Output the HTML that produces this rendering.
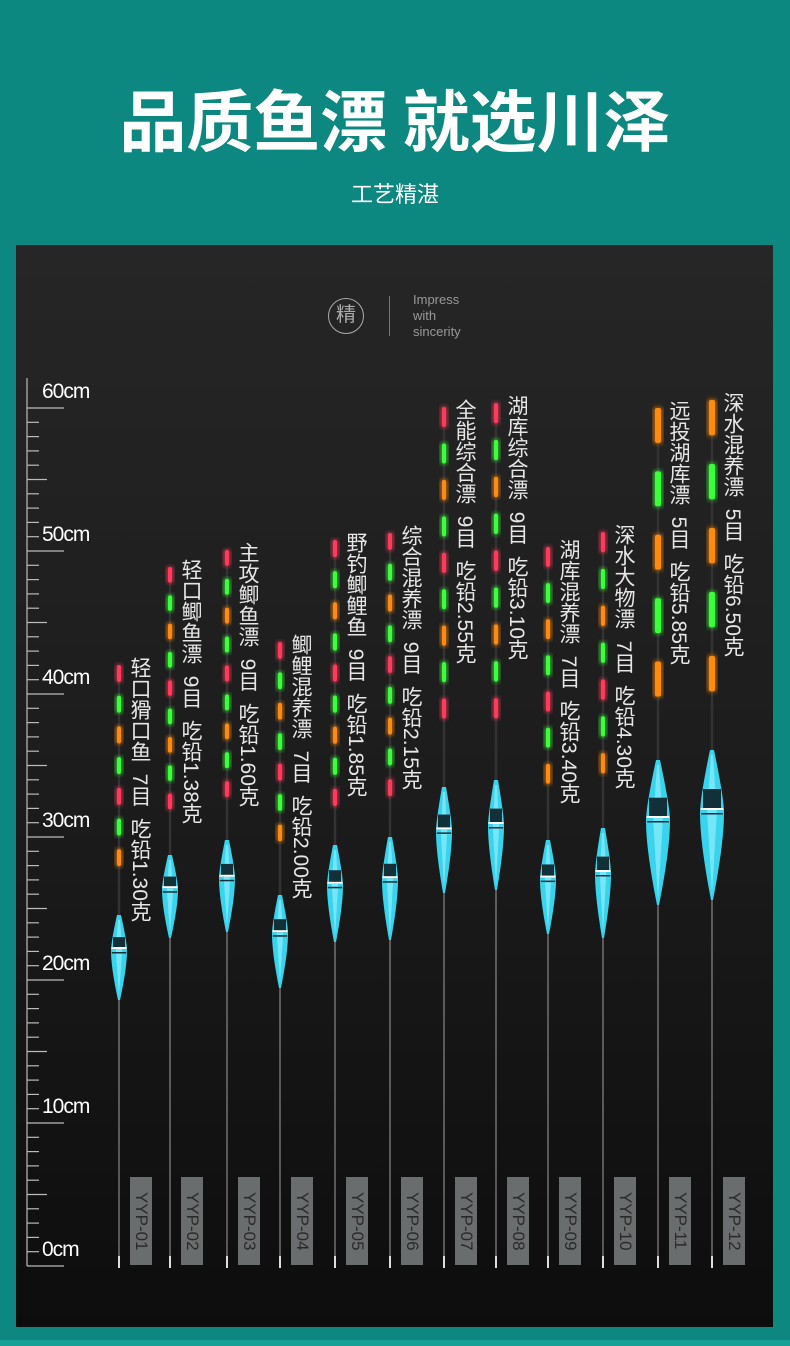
<!DOCTYPE html>
<html><head><meta charset="utf-8">
<style>
*{margin:0;padding:0;box-sizing:border-box}
body{width:790px;height:1346px;background:#0d8880;position:relative;overflow:hidden;font-family:"Liberation Sans","Noto Sans CJK SC",sans-serif}
.t{position:absolute;left:0;width:790px;text-align:center;color:#fff}
#panel{position:absolute;left:16px;top:245px;width:757px;height:1082px;background:linear-gradient(#262626,#1c1c1c 50%,#0d0d0d)}
.lab{position:absolute;writing-mode:vertical-rl;color:#e6e6e6;font-size:21px;line-height:22px;white-space:nowrap;font-family:"Liberation Sans","Noto Sans CJK SC",sans-serif}
.yyp{position:absolute;width:22px;height:88px;background:#6a6d6d;writing-mode:vertical-rl;color:#2a2a2a;font-size:17px;line-height:22px;text-align:center}
.cm{position:absolute;color:#fff;font-size:21px;letter-spacing:-1px}
</style></head><body>
<div class="t" style="top:76px;font-size:67px;font-weight:bold;line-height:84px;font-family:'Noto Sans CJK SC',sans-serif">品质鱼漂 就选川泽</div>
<div class="t" style="top:178px;font-size:22px;line-height:30px;font-family:'Noto Sans CJK SC',sans-serif">工艺精湛</div>
<div style="position:absolute;left:0;top:1340px;width:790px;height:6px;background:#16a096"></div>
<div id="panel"></div>
<svg id="g" width="790" height="1346" style="position:absolute;left:0;top:0"></svg>
<div style="position:absolute;left:328px;top:298px;width:36px;height:36px;border:1.5px solid #aaa;border-radius:50%;color:#aaa;font-size:20px;line-height:33px;text-align:center">精</div>
<div style="position:absolute;left:389px;top:296px;width:1px;height:40px;background:#777"></div>
<div style="position:absolute;left:413px;top:292px;color:#999;font-size:13px;line-height:16px">Impress<br>with<br>sincerity</div>
<div id="h"></div>
<script>
const g=document.getElementById('g');let s='';
s+='<line x1="27" y1="378" x2="27" y2="1266" stroke="#bbb" stroke-width="1.2"/>';
for(let c=0;c<=60;c++){const y=1266-c*14.3;let w=c%10==0?37:(c%5==0?20:12);s+=`<line x1="27" y1="${y}" x2="${27+w}" y2="${y}" stroke="#bbb" stroke-width="1.2"/>`;}
const F=[[119,665,880,915,1000,7],[170,567,822,855,938,9],[227,550,810,840,932,9],[280,642,855,895,988,7],[335,540,820,845,942,9],[390,533,810,837,940,9],[444,407,735,787,893,9],[496,403,735,780,890,9],[548,547,800,840,934,7],[603,532,790,828,938,7],[658,408,725,760,905,5],[712,400,720,750,900,5]];
const cols={r:'#ff3a5a',g:'#3cff3c',o:'#ff8a10'};
s+='<defs><filter id="gl"><feGaussianBlur stdDeviation="2"/></filter></defs>';
F.forEach((f,i)=>{const[x,t,e,bt,bb,n]=f;
 s+=`<line x1="${x}" y1="${bb}" x2="${x}" y2="1266" stroke="#888" stroke-width="1.2"/>`;
 s+=`<line x1="${x}" y1="1256" x2="${x}" y2="1268" stroke="#ddd" stroke-width="2"/>`;
 s+=`<line x1="${x}" y1="${t}" x2="${x}" y2="${bt}" stroke="#333" stroke-width="2.5"/>`;
 const big=n==5;const pat=big?['o','g','o','g','o']:['r','g','o','g'];
 const step=(e-t)/n;const L=big?step*0.55:Math.min(22,step*0.55);
 for(let k=0;k<n;k++){const y=t+k*step;const c=cols[pat[k%pat.length]];const w=big?6:4;
  s+=`<rect x="${x-w/2-2}" y="${y-1}" width="${w+4}" height="${L+2}" rx="3" fill="${c}" opacity=".6" filter="url(#gl)"/>`;
  s+=`<rect x="${x-w/2}" y="${y}" width="${w}" height="${L}" rx="2" fill="${c}"/>`;}
 const W=big?12:8;const h=bb-bt;const m=bt+h*0.42;
 s+=`<path d="M${x-2} ${bt} L${x+2} ${bt} Q${x+W} ${m-h*0.1} ${x+W} ${m} Q${x+W} ${m+h*0.2} ${x+1} ${bb} L${x-1} ${bb} Q${x-W} ${m+h*0.2} ${x-W} ${m} Q${x-W} ${m-h*0.1} ${x-2} ${bt} Z" fill="#38d4ee"/>`;
 s+=`<path d="M${x-1} ${bt+5} L${x+1} ${bt+5} L${x+W*0.4} ${m} L${x} ${bb-5} L${x-W*0.4} ${m} Z" fill="#9ff0ff" opacity=".6"/>`;
 const y1=bt+h*0.26,y2=bt+h*0.4;
 s+=`<rect x="${x-W*0.75}" y="${y1}" width="${W*1.5}" height="${y2-y1}" fill="#123038"/>`;
 s+=`<rect x="${x-W*0.95}" y="${y2-2}" width="${W*1.9}" height="2" fill="#fff"/>`;
 s+=`<rect x="${x-W*0.9}" y="${y2+3}" width="${W*1.8}" height="1.5" fill="#123038"/>`;
});
g.innerHTML=s;
const T=['轻口猾口鱼 7目 吃铅1.30克','轻口鲫鱼漂 9目 吃铅1.38克','主攻鲫鱼漂 9目 吃铅1.60克','鲫鲤混养漂 7目 吃铅2.00克','野钓鲫鲤鱼 9目 吃铅1.85克','综合混养漂 9目 吃铅2.15克','全能综合漂 9目 吃铅2.55克','湖库综合漂 9目 吃铅3.10克','湖库混养漂 7目 吃铅3.40克','深水大物漂 7目 吃铅4.30克','远投湖库漂 5目 吃铅5.85克','深水混养漂 5目 吃铅6.50克'];
let h='';
[60,50,40,30,20,10,0].forEach(c=>{const y=1266-c*14.3;h+=`<div class="cm" style="left:42px;top:${y-28}px">${c}cm</div>`});
F.forEach((f,i)=>{h+=`<div class="lab" style="left:${f[0]+9}px;top:${f[1]-8}px">${T[i].replace(/ /g,'&nbsp;&nbsp;')}</div>`;
 h+=`<div class="yyp" style="left:${f[0]+11}px;top:1177px">YYP-${String(i+1).padStart(2,'0')}</div>`;});
document.getElementById('h').innerHTML=h;
</script>
</body></html>
